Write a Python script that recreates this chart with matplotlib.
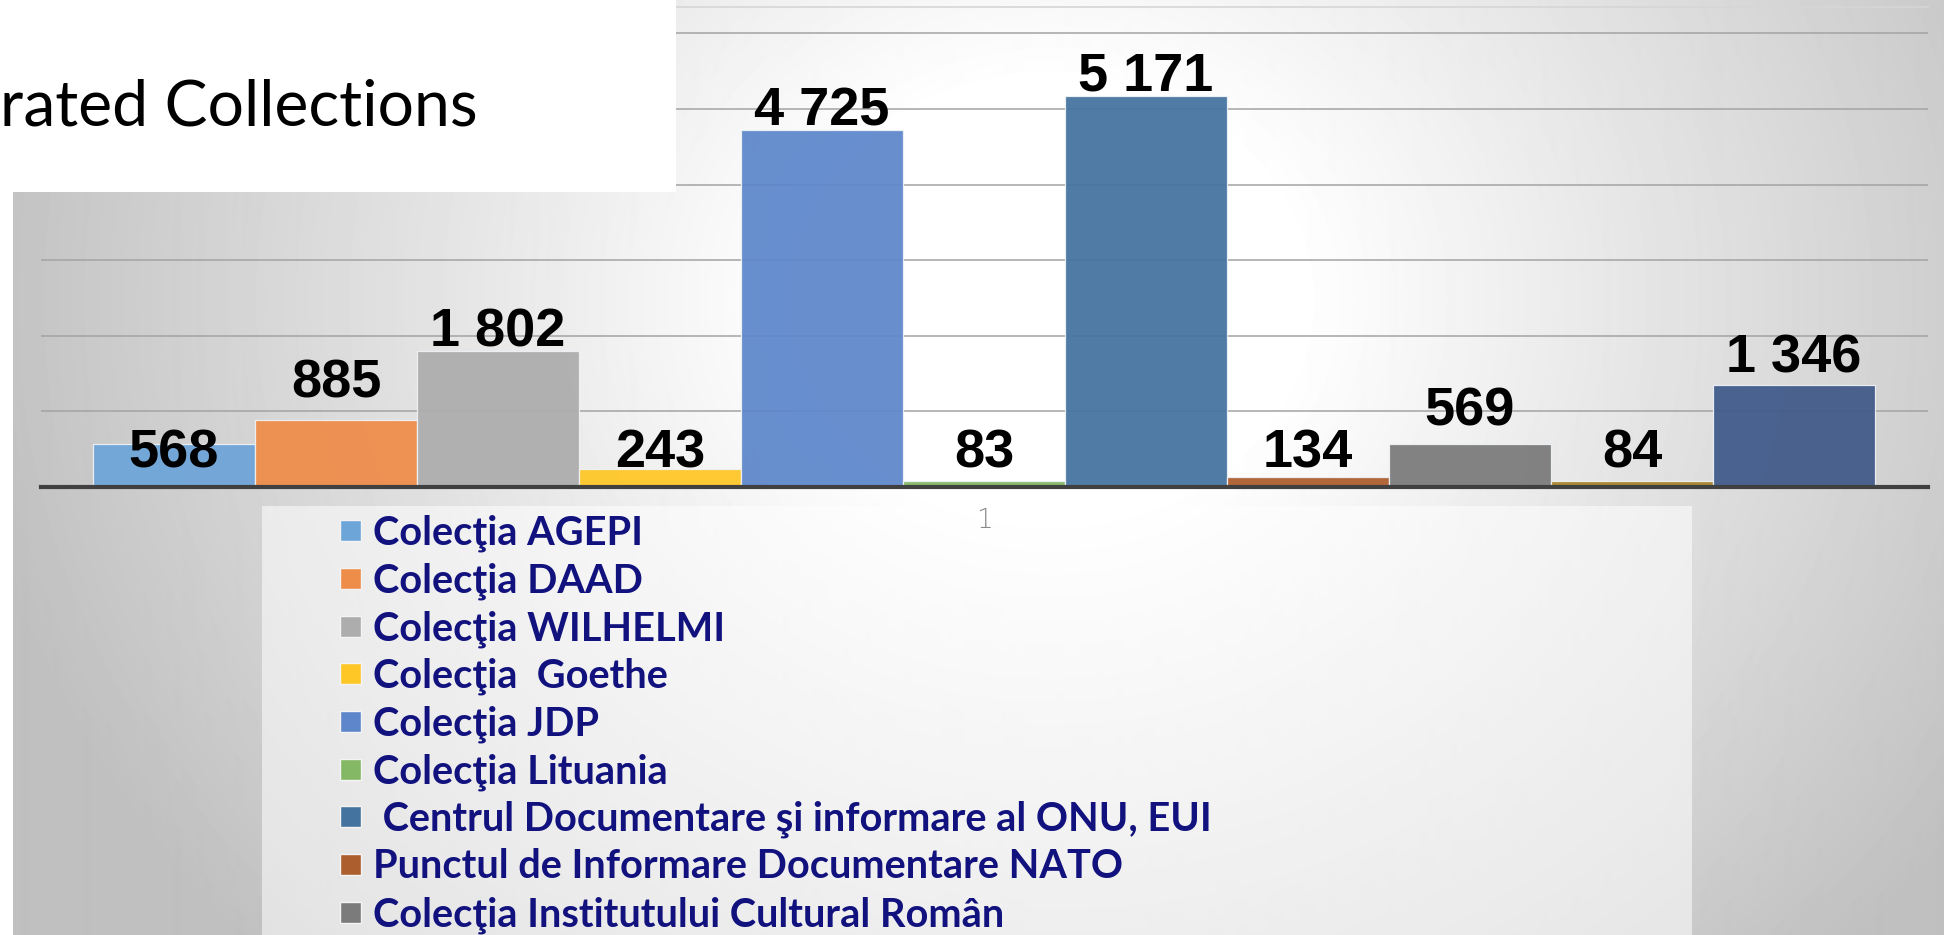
import matplotlib
matplotlib.use("Agg")
import matplotlib.pyplot as plt
import numpy as np
from matplotlib.patches import Rectangle

# ---------------- data ----------------
legend_names = [
    "Colecţia AGEPI",
    "Colecţia DAAD",
    "Colecţia WILHELMI",
    "Colecţia  Goethe",
    "Colecţia JDP",
    "Colecţia Lituania",
    " Centrul Documentare şi informare al ONU, EUI",
    "Punctul de Informare Documentare NATO",
    "Colecţia Institutului Cultural Român",
]
values = [568, 885, 1802, 243, 4725, 83, 5171, 134, 569, 84, 1346]
value_labels = ["568", "885", "1 802", "243", "4 725", "83", "5 171", "134", "569", "84", "1 346"]
category_labels = ["1"]
gridline_values = [1000, 2000, 3000, 4000, 5000, 6000]
title_text = "rated Collections"

# ---------------- styles ----------------
bar_colors = ["#6ea5d8", "#ee8d4a", "#adadad", "#ffc726", "#5e87cb", "#84b865",
              "#44739f", "#ad5e2e", "#7b7b7b", "#a8832a", "#415a8a"]
# label baselines (data units) as placed in the source chart
label_base = [262, 1180, 1852, 262, 4787, 262, 5246, 262, 820, 262, 1508]

W, H, DPI = 1944, 935, 100
fig = plt.figure(figsize=(W / DPI, H / DPI), dpi=DPI)


def fx(x):
    return x / W


def fy(y):
    return 1 - y / H


# ---------------- background gradient ----------------
bg = fig.add_axes([0, 0, 1, 1], zorder=0)
xx, yy = np.meshgrid(np.arange(W), np.arange(H))
d = np.sqrt((xx - 1050.0) ** 2 + ((yy - 300.0) * 1.15) ** 2)
t = np.clip((d - 250.0) / 850.0, 0, 1)
img = 1.0 - 0.25 * t
bg.imshow(img, cmap="gray", vmin=0, vmax=1, aspect="auto",
          extent=(0, W, H, 0), interpolation="bilinear")
bg.set_xlim(0, W)
bg.set_ylim(H, 0)
bg.axis("off")

# legend overlay
fig.patches.append(Rectangle((fx(262), 0), fx(1692) - fx(262), fy(506),
                             transform=fig.transFigure, facecolor="white",
                             alpha=0.55, edgecolor="none", zorder=1))

# ---------------- chart ----------------
px_per_1000 = 75.6
ax = fig.add_axes([fx(41), fy(487), fx(1928) - fx(41), (487 - 7) / H], zorder=2)
ax.patch.set_alpha(0)
x = np.arange(len(values))
ax.bar(x, values, width=1.0, color=bar_colors, edgecolor="#eef2f6",
       linewidth=0.9, alpha=0.94, zorder=3)
ax.set_xlim(-0.821, len(values) - 1 + 0.827)
ax.set_ylim(0, (487 - 7) / px_per_1000 * 1000)
ax.set_yticks(gridline_values)
ax.yaxis.grid(True, color="#a3a3a3", linewidth=1.1, zorder=1)
ax.set_axisbelow(True)
ax.tick_params(axis="y", length=0, labelleft=False)
ax.set_xticks([(len(values) - 1) / 2])
ax.set_xticklabels(category_labels, fontsize=19, color="#8a8a8a",
                   family=["DejaVu Sans"], fontweight="light")
ax.tick_params(axis="x", length=0, pad=15)
for s in ["left", "right"]:
    ax.spines[s].set_visible(False)
ax.spines["top"].set_color("#d6d6d6")
ax.spines["top"].set_linewidth(1.2)
ax.spines["bottom"].set_color("#404040")
ax.spines["bottom"].set_linewidth(3)
ax.spines["bottom"].set_zorder(4)

for i, (lb, yb) in enumerate(zip(value_labels, label_base)):
    ax.text(i, yb, lb, ha="center", va="baseline", fontsize=39,
            fontweight="bold", family=["Liberation Sans", "DejaVu Sans"],
            color="black", zorder=5)

# ---------------- title box ----------------
fig.patches.append(Rectangle((0, fy(192)), fx(676), 1 - fy(192),
                             transform=fig.transFigure, facecolor="white",
                             edgecolor="none", zorder=5))
fig.patches.append(Rectangle((0, 0), fx(13), 1, transform=fig.transFigure,
                             facecolor="white", edgecolor="none", zorder=5))
title = fig.text(fx(0), fy(125), title_text, fontsize=50, ha="left",
                 va="baseline", family=["Lato", "DejaVu Sans"],
                 color="black", zorder=6)

# ---------------- legend ----------------
row0, row_step = 530.6, 47.7
leg_texts = []
for k, name in enumerate(legend_names):
    cy = row0 + k * row_step
    fig.patches.append(Rectangle((fx(340), fy(cy + 10.5)), 21 / W, 21 / H,
                                 transform=fig.transFigure,
                                 facecolor=bar_colors[k], edgecolor="#f4f4f4",
                                 linewidth=1.0, zorder=3))
    tt = fig.text(fx(373), fy(cy + 14), name, fontsize=30, fontweight="bold",
                  family=["Lato", "DejaVu Sans"], color="#12127e",
                  ha="left", va="baseline", zorder=4)
    leg_texts.append(tt)

# fit text sizes to the measured widths
fig.canvas.draw()
r = fig.canvas.get_renderer()
tw = title.get_window_extent(r).width
title.set_fontsize(50 * 477 / tw)
lw = leg_texts[-1].get_window_extent(r).width
for tt in leg_texts:
    tt.set_fontsize(30 * 631 / lw)

fig.savefig("out.png", dpi=DPI)
